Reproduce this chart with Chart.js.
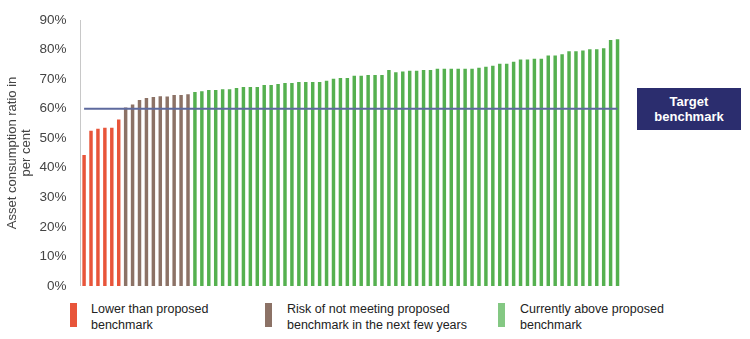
<!DOCTYPE html>
<html>
<head>
<meta charset="utf-8">
<script src="https://cdn.jsdelivr.net/npm/chart.js@4"></script>
<style>
  body { margin: 0; background: #fff; font-family: "Liberation Sans", Arial, sans-serif; }
  #wrap { position: relative; width: 750px; height: 339px; }
  #chartBox { position: absolute; left: 0; top: 0; width: 750px; height: 300px; }
  .target { position: absolute; left: 637px; top: 88px; width: 104px; height: 42px; background: #2b2d6e;
            color: #fff; font-weight: bold; font-size: 13px; line-height: 15px; text-align: center;
            display: flex; align-items: center; justify-content: center; }
  .leg { position: absolute; top: 303px; font-size: 12.5px; line-height: 16px; color: #222; }
  .leg i { position: absolute; left: 0; top: 0; width: 7px; height: 24px; }
  .leg span { position: absolute; top: -2px; white-space: nowrap; }
</style>
</head>
<body>
<div id="wrap">
  <div id="chartBox"><canvas id="ratioChart"></canvas></div>
  <div class="target">Target<br>benchmark</div>
  <div class="leg" style="left:70px"><i style="background:#e8553a"></i><span style="left:21px">Lower than proposed<br>benchmark</span></div>
  <div class="leg" style="left:265px"><i style="background:#8c7266"></i><span style="left:22px">Risk of not meeting proposed<br>benchmark in the next few years</span></div>
  <div class="leg" style="left:498px"><i style="background:#84c883"></i><span style="left:22px">Currently above proposed<br>benchmark</span></div>
</div>
<script>
// asset consumption ratio per council, sorted (per cent)
const lowerValues = [44.3, 52.5, 53.2, 53.5, 53.5, 56.3];
const riskValues = [60.4, 61.4, 62.9, 63.6, 63.9, 64.2, 64.1, 64.6, 64.6, 64.9];
const aboveValues = [
    65.6, 65.9, 66.3, 66.3, 66.6, 66.6, 67.0, 67.3, 67.3, 67.3,
    68.0, 68.0, 68.3, 68.7, 68.7, 69.0, 69.0, 69.0, 69.0, 69.4,
    70.1, 70.4, 70.4, 71.1, 71.1, 71.4, 71.4, 71.4, 73.1, 72.3,
    72.6, 72.8, 72.8, 73.1, 73.1, 73.5, 73.5, 73.5, 73.5, 73.5,
    73.5, 73.8, 74.2, 74.5, 75.2, 75.2, 75.9, 76.6, 76.6, 76.9,
    76.9, 78.0, 78.0, 78.4, 79.4, 79.4, 79.7, 80.1, 80.1, 80.4,
    83.2, 83.5
];
const targetBenchmark = 60;
const yTicks = [0, 10, 20, 30, 40, 50, 60, 70, 80, 90];

const values = lowerValues.concat(riskValues, aboveValues);
const labels = values.map((_, i) => i + 1);
const colors = values.map((_, i) =>
    i < lowerValues.length ? '#e8553a' : (i < lowerValues.length + riskValues.length ? '#8c7266' : '#55b04f')
);

const ctx = document.getElementById('ratioChart').getContext('2d');
const ratioChart = new Chart(ctx, {
    data: {
        labels: labels,
        datasets: [{
            type: 'line',
            label: 'Target benchmark',
            data: labels.map(() => targetBenchmark),
            borderColor: '#5e6a9e',
            borderWidth: 2,
            pointRadius: 0,
            order: 0
        }, {
            type: 'bar',
            label: 'Asset consumption ratio',
            data: values,
            backgroundColor: colors,
            barPercentage: 0.5,
            categoryPercentage: 1,
            order: 1
        }]
    },
    options: {
        responsive: true,
        maintainAspectRatio: false,
        animation: false,
        layout: {
            padding: { top: 20, right: 129, bottom: 2, left: 5 }
        },
        plugins: {
            legend: { display: false },
            tooltip: { enabled: false }
        },
        scales: {
            x: {
                display: false
            },
            y: {
                min: 0,
                max: 90,
                afterBuildTicks: (axis) => {
                    axis.ticks = yTicks.map(v => ({ value: v }));
                },
                grid: { display: false },
                border: { display: true, color: '#c8c8c8', width: 1 },
                ticks: {
                    color: '#444',
                    padding: 6,
                    font: { family: '"Liberation Sans", Arial', size: 13.5 },
                    callback: v => v + '%'
                },
                title: {
                    display: true,
                    text: ['Asset consumption ratio in', 'per cent'],
                    color: '#444',
                    padding: { top: 0, bottom: 0 },
                    font: { family: '"Liberation Sans", Arial', size: 13, lineHeight: 1.1 }
                }
            }
        }
    }
});
</script>
</body>
</html>
